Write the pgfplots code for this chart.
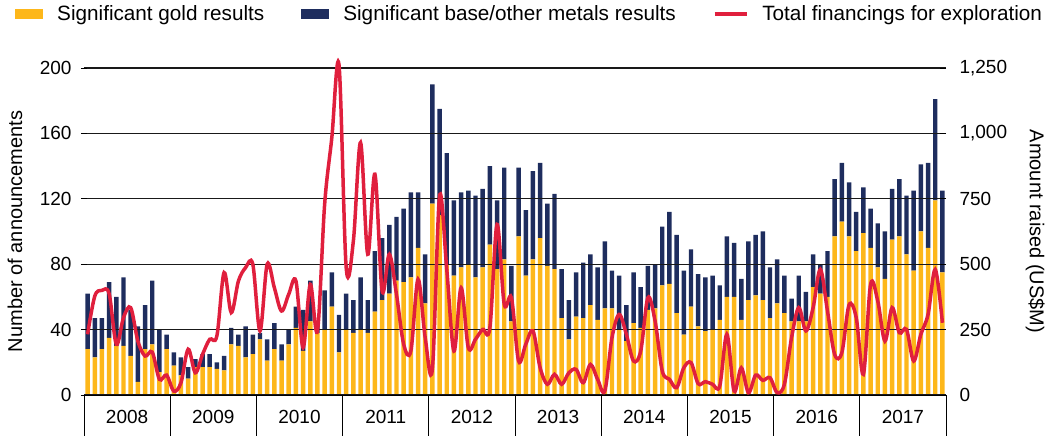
\documentclass[border=0pt]{standalone}
\usepackage{fontspec}
\setmainfont{Liberation Sans}
\usepackage{pgfplots}
\usepackage{pgfplotstable}
\pgfplotsset{compat=1.18}
\definecolor{gold}{HTML}{FDB71A}
\definecolor{navy}{HTML}{1E2D5E}
\definecolor{redl}{HTML}{E01F3D}

\pgfplotstableread{
i G N R
0 28 34 232
1 23 24 378
2 28 19 400
3 35 34 387
4 30 30 194
5 30 42 296
6 24 28 334
7 8 34 206
8 28 27 149
9 31 39 164
10 14 26 60
11 28 9 76
12 18 8 15
13 12 11 47
14 10 7 175
15 17 5 85
16 17 8 155
17 17 8 213
18 16 4 226
19 15 9 468
20 31 10 315
21 30 7 436
22 23 19 487
23 25 12 500
24 34 4 245
25 21 13 500
26 28 16 410
27 21 10 321
28 31 9 385
29 41 13 436
30 27 25 181
31 45 25 423
32 38 6 245
33 40 24 729
34 54 21 984
35 26 23 1262
36 40 22 487
37 38 20 589
38 40 32 965
39 38 20 538
40 51 37 844
41 58 38 398
42 62 42 538
43 70 39 385
44 69 45 194
45 72 52 168
46 90 34 442
47 56 30 219
48 117 73 100
49 110 65 760
50 80 68 480
51 73 46 168
52 78 46 410
53 80 45 181
54 72 50 213
55 78 48 251
56 92 48 257
57 77 42 652
58 83 56 347
59 45 34 372
60 97 42 130
61 73 40 194
62 83 54 245
63 96 46 104
64 79 38 41
65 77 46 79
66 47 30 41
67 34 24 85
68 48 27 98
69 47 34 47
70 55 31 117
71 46 32 60
72 53 41 15
73 53 23 219
74 40 33 308
75 33 22 232
76 44 31 130
77 41 25 168
78 52 27 372
79 53 27 283
80 67 36 92
81 68 44 60
82 50 48 28
83 37 39 104
84 54 35 124
85 42 32 43
86 39 33 51
87 40 33 41
88 46 21 34
89 60 37 232
90 60 33 15
91 46 25 104
92 58 36 9
93 61 37 76
94 58 42 56
95 47 31 66
96 56 27 9
97 50 23 41
98 45 14 219
99 45 28 334
100 45 18 245
101 66 20 334
102 62 18 480
103 60 28 321
104 97 35 155
105 106 36 162
106 97 33 344
107 88 24 296
108 99 28 79
109 90 24 423
110 78 27 359
111 71 29 206
112 95 31 334
113 97 35 238
114 86 36 251
115 76 49 130
116 100 41 232
117 90 52 308
118 119 62 480
119 75 50 276
}\data

\begin{document}
\begin{tikzpicture}
\useasboundingbox (-84pt,-41pt) rectangle (962pt,395pt);
\begin{axis}[
  scale only axis, width=862pt, height=327pt,
  at={(0pt,0pt)}, anchor=south west,
  xmin=-0.5, xmax=119.5, ymin=0, ymax=200,
  ybar stacked, bar width=0.62,
  axis on top, clip=false,
  axis x line*=bottom, axis y line*=left,
  y axis line style={draw=none},
  x axis line style={black, line width=0.9pt, -},
  ytick={0,40,...,200},
  ymajorgrids, grid style={black!90, line width=1.1pt},
  xtick={5.5,17.5,29.5,41.5,53.5,65.5,77.5,89.5,101.5,113.5},
  xticklabels={2008,2009,2010,2011,2012,2013,2014,2015,2016,2017},
  xtick style={draw=none},
  ytick style={black, line width=0.8pt},
  major tick length=6pt, ytick align=center,
  tick label style={font=\fontsize{19}{22}\selectfont},
  /pgf/number format/assume math mode=true,
  xticklabel style={anchor=base, yshift=-28pt},
  yticklabel style={anchor=east, xshift=-6pt},
  every axis y label/.style={at={(axis description cs:-0.080,0.5)}, rotate=90, anchor=center},
  ylabel={Number of announcements},
  label style={font=\fontsize{20}{24}\selectfont},
  legend style={at={(axis description cs:-0.0800,1.165)}, anchor=west, draw=none, fill=none,
    inner sep=0pt, font=\fontsize{20.7}{25}\selectfont, legend columns=-1,
    /tikz/every odd column/.append style={column sep=12pt},
    /tikz/every even column/.append style={column sep=35pt}},
]
\addplot[fill=gold, draw=none, legend image code/.code={\fill[gold] (0pt,-5pt) rectangle (28pt,5pt);}] table[x=i,y=G]{\data};
\addlegendentry{Significant gold results}
\addplot[fill=navy, draw=none, legend image code/.code={\fill[navy] (0pt,-5pt) rectangle (28pt,5pt);}] table[x=i,y=N]{\data};
\addlegendentry{Significant base/other metals results}
\addlegendimage{legend image code/.code={\draw[redl, line width=3.5pt] (0pt,0pt) -- (32pt,0pt);}}
\addlegendentry{Total financings for exploration}
\pgfplotsinvokeforeach{-0.5,11.5,23.5,35.5,47.5,59.5,71.5,83.5,95.5,107.5,119.5}{
  \draw[black, line width=0.9pt] (axis cs:#1,0) -- ++(0pt,-41pt);
}
\end{axis}
\begin{axis}[
  scale only axis, width=862pt, height=327pt,
  at={(0pt,0pt)}, anchor=south west,
  xmin=-0.5, xmax=119.5, ymin=0, ymax=1250,
  axis x line=none, axis y line*=right,
  y axis line style={draw=none},
  ytick={0,250,...,1250},
  ytick style={black, line width=0.8pt},
  major tick length=6pt, ytick align=inside,
  clip=false,
  tick label style={font=\fontsize{19}{22}\selectfont},
  /pgf/number format/assume math mode=true,
  /pgf/number format/1000 sep={,},
  yticklabel style={anchor=west, xshift=10pt},
  every axis y label/.style={at={(axis description cs:1.1035,0.5)}, rotate=-90, anchor=center},
  ylabel={Amount raised (US\$M)},
  label style={font=\fontsize{20}{24}\selectfont},
]
\addplot[redl, line width=3.5pt, smooth, tension=0.55] table[x=i,y=R]{\data};
\end{axis}
\end{tikzpicture}
\end{document}
